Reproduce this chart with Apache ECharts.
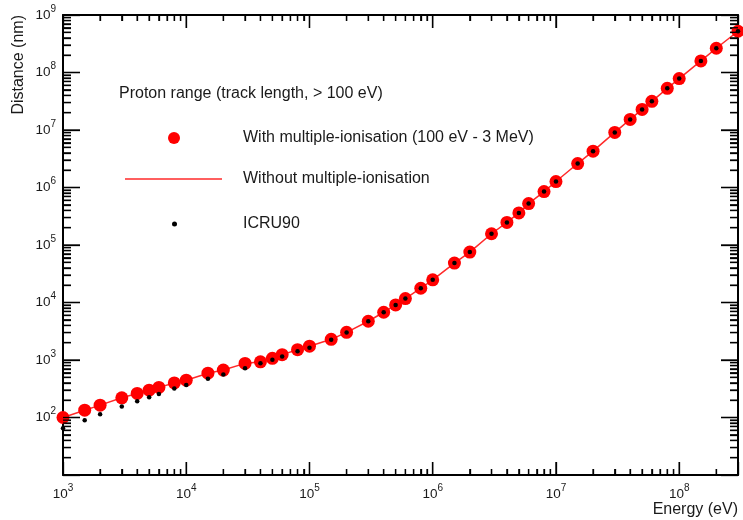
<!DOCTYPE html>
<html>
<head>
<meta charset="utf-8">
<script src="https://cdn.jsdelivr.net/npm/echarts@6/dist/echarts.min.js"></script>
<style>html,body{margin:0;padding:0;background:#fff}#c{width:743px;height:520px}</style>
</head>
<body>
<div id="c"></div>
<script>
// ---- data ----
const energies = [1e3,1.5e3,2e3,3e3,4e3,5e3,6e3,8e3,1e4,1.5e4,2e4,3e4,4e4,5e4,6e4,8e4,
  1e5,1.5e5,2e5,3e5,4e5,5e5,6e5,8e5,1e6,1.5e6,2e6,3e6,4e6,5e6,6e6,8e6,
  1e7,1.5e7,2e7,3e7,4e7,5e7,6e7,8e7,1e8,1.5e8,2e8,3e8];
const withMI = [100,134,164,220,262,299,333,400,446,590,668,873,930,1070,1240,1510,
  1740,2290,3030,4720,6770,9080,11700,17700,24800,48400,75300,157000,247000,361000,525000,849000,
  1270000,2610000,4280000,9080000,15300000,22800000,31500000,53000000,78300000,159000000,264000000,522000000];
const withoutMI = [100,134,164,220,262,299,333,400,446,590,668,873,930,1070,1240,1510,
  1740,2290,3030,4720,6770,9080,11700,17700,24800,48400,75300,157000,247000,361000,525000,849000,
  1270000,2610000,4280000,9080000,15300000,22800000,31500000,53000000,78300000,159000000,264000000,522000000];
const icru90 = [65,90,114,155,192,226,257,320,366,470,562,720,880,1010,1150,1420,
  1640,2250,3000,4700,6750,9050,11700,17700,24800,48400,75300,157000,247000,361000,525000,849000,
  1270000,2610000,4280000,9080000,15300000,22800000,31500000,53000000,78300000,159000000,264000000,522000000];
const xMin = 1e3, xMax = 3e8, yMin = 1e1, yMax = 1e9;
const xDecades = [3,4,5,6,7,8];
const yDecades = [1,2,3,4,5,6,7,8,9];
const minorMultipliers = [2,3,4,5,6,7,8,9];

const legendTitle = 'Proton range (track length, > 100 eV)';
const nameWith = 'With multiple-ionisation (100 eV - 3 MeV)';
const nameWithout = 'Without multiple-ionisation';
const nameICRU = 'ICRU90';
const xAxisTitle = 'Energy (eV)';
const yAxisTitle = 'Distance (nm)';

const FONT = '"Liberation Sans", Arial, Helvetica, sans-serif';
const TXT = '#1a1a1a';
const TICK_W = 1.3;

const xMajor = xDecades.map(d => Math.pow(10, d));
const yMajor = yDecades.map(d => Math.pow(10, d));
const xMinor = [], yMinor = [];
xDecades.forEach(d => minorMultipliers.forEach(m => { const v = m * Math.pow(10, d); if (v < xMax) xMinor.push(v); }));
yDecades.forEach(d => minorMultipliers.forEach(m => { const v = m * Math.pow(10, d); if (v < yMax) yMinor.push(v); }));

function powLabel(v) {
  const l = Math.log10(v);
  const e = Math.round(l);
  if (Math.abs(l - e) > 1e-6) return '';
  return '{b|10}{sup|' + e + '}';
}
const labelRich = {
  b: {fontSize: 13.5, fontFamily: FONT, color: TXT},
  sup: {fontSize: 10, fontFamily: FONT, color: TXT, padding: [0, 0, 12, 0]}
};
function axisLine() { return {show: true, onZero: false, lineStyle: {color: '#000', width: 2}}; }
function majorTick(len) { return {show: true, inside: true, length: len, lineStyle: {color: '#000', width: TICK_W}}; }
function minorTick(len) { return {show: true, splitNumber: 9, length: len, lineStyle: {color: '#000', width: TICK_W}}; }

const chart = echarts.init(document.getElementById('c'));
chart.setOption({
  animation: false,
  textStyle: {fontFamily: FONT},
  title: {
    text: legendTitle, left: 119, top: 86, padding: 0,
    textStyle: {fontSize: 16, fontWeight: 'normal', color: TXT, fontFamily: FONT}
  },
  legend: [
    {data: [nameWith], left: 168, top: 130, padding: 0, icon: 'circle', itemWidth: 12, itemHeight: 12,
     selectedMode: false, textStyle: {fontSize: 16, color: TXT, fontFamily: FONT, padding: [0, 0, 0, 58]}},
    {data: [{name: nameWithout, icon: 'rect'}], left: 125, top: 171, padding: 0, itemWidth: 97, itemHeight: 1.6,
     selectedMode: false, textStyle: {fontSize: 16, color: TXT, fontFamily: FONT, padding: [0, 0, 0, 16]}},
    {data: [nameICRU], left: 172, top: 216, padding: 0, icon: 'circle', itemWidth: 5, itemHeight: 5,
     selectedMode: false, textStyle: {fontSize: 16, color: TXT, fontFamily: FONT, padding: [0, 0, 0, 61]}}
  ],
  grid: {left: 63, right: 5, top: 15, bottom: 45},
  xAxis: [
    {type: 'log', min: xMin, max: xMax, interval: 1, position: 'bottom',
     name: xAxisTitle, nameLocation: 'end', nameGap: 0,
     nameTextStyle: {fontSize: 16, color: TXT, fontFamily: FONT, align: 'right', verticalAlign: 'top', padding: [27, 0, 0, 0]},
     axisLine: axisLine(), axisTick: majorTick(13), minorTick: minorTick(6),
     axisLabel: {show: true, margin: 8, formatter: powLabel, rich: labelRich},
     splitLine: {show: false}},
    {type: 'log', min: xMin, max: xMax, interval: 1, position: 'top',
     axisLine: axisLine(), axisTick: majorTick(13), minorTick: minorTick(6),
     axisLabel: {show: false}, splitLine: {show: false}}
  ],
  yAxis: [
    {type: 'log', min: yMin, max: yMax, interval: 1, position: 'left',
     name: yAxisTitle, nameLocation: 'end', nameGap: 0, nameRotate: 90,
     nameTextStyle: {fontSize: 16, color: TXT, fontFamily: FONT, align: 'right', verticalAlign: 'bottom', padding: [0, 0, 36, 0]},
     axisLine: axisLine(), axisTick: majorTick(17), minorTick: minorTick(8),
     axisLabel: {show: true, margin: 7, formatter: powLabel, rich: labelRich, showMinLabel: false},
     splitLine: {show: false}},
    {type: 'log', min: yMin, max: yMax, interval: 1, position: 'right',
     axisLine: axisLine(), axisTick: majorTick(17), minorTick: minorTick(8),
     axisLabel: {show: false}, splitLine: {show: false}}
  ],
  series: [
    {name: nameWithout, type: 'line', xAxisIndex: 0, yAxisIndex: 0, z: 2,
     data: energies.map((e, i) => [e, withoutMI[i]]),
     symbol: 'none', showSymbol: false, color: '#ff2a2a',
     lineStyle: {color: '#ff2a2a', width: 1.5}, clip: false},
    {name: nameWith, type: 'scatter', xAxisIndex: 0, yAxisIndex: 0, z: 3,
     data: energies.map((e, i) => [e, withMI[i]]),
     symbol: 'circle', symbolSize: 13, itemStyle: {color: '#ff0000', opacity: 1}, clip: false},
    {name: nameICRU, type: 'scatter', xAxisIndex: 0, yAxisIndex: 0, z: 4,
     data: energies.map((e, i) => [e, icru90[i]]),
     symbol: 'circle', symbolSize: 4.5, itemStyle: {color: '#000', opacity: 1}, clip: false}
  ]
});

// extra tick layer placed through the axes' own scales (graphic lines on all four frame sides)
try {
  const bl = chart.convertToPixel({gridIndex: 0}, [xMin, yMin]);
  const tr = chart.convertToPixel({gridIndex: 0}, [xMax, yMax]);
  const els = [];
  const st = {stroke: '#000', lineWidth: TICK_W};
  const xt = (vals, len) => vals.forEach(v => {
    const px = chart.convertToPixel({gridIndex: 0}, [v, yMin])[0];
    els.push({type: 'line', silent: true, z: 5, shape: {x1: px, y1: bl[1], x2: px, y2: bl[1] - len}, style: st});
    els.push({type: 'line', silent: true, z: 5, shape: {x1: px, y1: tr[1], x2: px, y2: tr[1] + len}, style: st});
  });
  const yt = (vals, len) => vals.forEach(v => {
    const py = chart.convertToPixel({gridIndex: 0}, [xMin, v])[1];
    els.push({type: 'line', silent: true, z: 5, shape: {x1: bl[0], y1: py, x2: bl[0] + len, y2: py}, style: st});
    els.push({type: 'line', silent: true, z: 5, shape: {x1: tr[0], y1: py, x2: tr[0] - len, y2: py}, style: st});
  });
  xt(xMajor, 13); xt(xMinor, 6);
  yt(yMajor, 17); yt(yMinor, 8);
  chart.setOption({graphic: els});
} catch (e) { /* keep the chart even if the extra layer fails */ }
</script>
</body>
</html>
